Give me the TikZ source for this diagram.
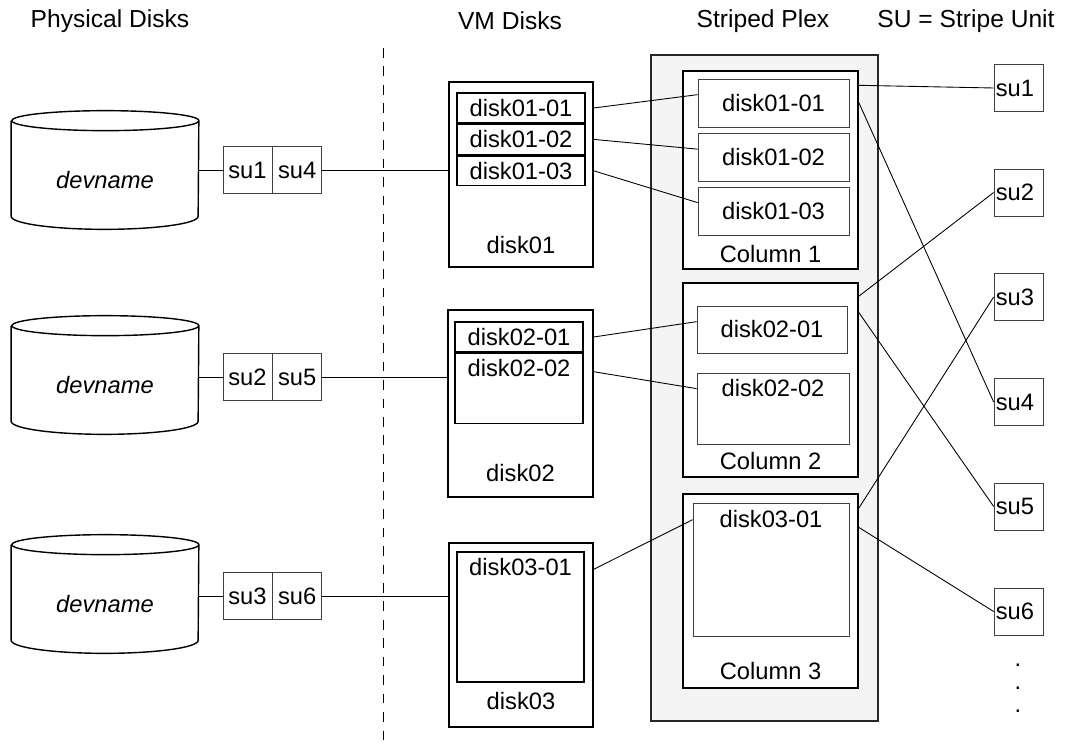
\documentclass[tikz,border=0pt]{standalone}
\usepackage{fontspec}
\setmainfont{Liberation Sans}
\usetikzlibrary{positioning,calc}
\definecolor{plexgray}{HTML}{F4F4F4}

\begin{document}
\begin{tikzpicture}[x=0.02cm,y=-0.02cm,every node/.style={font=\fontsize{13.5}{16}\selectfont}]
\tikzstyle{head} = [font=\fontsize{14}{16}\selectfont]
\tikzstyle{pdisk} = [rectangle, minimum width=3.74cm, minimum height=1.96cm, font=\fontsize{13.5}{16}\selectfont\itshape]
\tikzstyle{cell} = [rectangle, draw=black!75, inner sep=1pt, minimum width=0.98cm, minimum height=0.94cm]
\tikzstyle{vmdisk} = [rectangle, draw, line width=0.8pt, minimum width=2.88cm]
\tikzstyle{sub} = [rectangle, draw, line width=0.8pt, inner sep=0pt, minimum width=2.56cm, minimum height=0.6cm]
\tikzstyle{plexbox} = [rectangle, draw=black!85, fill=plexgray, line width=0.8pt, minimum width=4.54cm, minimum height=13.32cm]
\tikzstyle{column} = [rectangle, draw, fill=white, line width=0.8pt, minimum width=3.5cm]
\tikzstyle{psub} = [rectangle, draw=black!75, fill=white, inner sep=0pt, minimum width=3.02cm, minimum height=0.96cm]
\tikzstyle{unit} = [rectangle, draw=black!75, inner sep=1pt, minimum width=0.98cm, minimum height=0.94cm, text width=0.91cm, align=left]
\tikzstyle{link} = [line width=0.5pt]

\useasboundingbox (0,0) rectangle (1067,749);

% headings
\node (hpd) [head] at (110,21) {Physical Disks};
\node (hvm) [head] at (510,21) {VM Disks};
\node (hpl) [head] at (763,21) {Striped Plex};
\node (hsu) [head] at (966,21) {SU = Stripe Unit};

% divider
\coordinate (divtop) at (383,48);
\coordinate (divbot) at (383,749);
\draw [line width=0.5pt, dash pattern=on 5.5pt off 5pt] (divtop) -- (divbot);

% physical disks
\node (pd1) [pdisk] at (105,180) {devname};
\node (pd2) [pdisk] at (105,385) {devname};
\node (pd3) [pdisk] at (105,604) {devname};
\foreach \d in {pd1,pd2,pd3}
  \draw [line width=0.8pt] ([yshift=0.2cm]\d.north west) -- ([yshift=0.26cm]\d.south west)
    arc[start angle=180, end angle=360, x radius=1.87cm, y radius=0.26cm]
    -- ([yshift=0.2cm]\d.north east)
    arc[start angle=0, end angle=360, x radius=1.87cm, y radius=0.2cm];

\node (sa1) [cell] at (247.5,170) {su1};
\node (sb1) [cell, right=0pt of sa1] {su4};
\node (sa2) [cell] at (247.5,377) {su2};
\node (sb2) [cell, right=0pt of sa2] {su5};
\node (sa3) [cell] at (247.5,596) {su3};
\node (sb3) [cell, right=0pt of sa3] {su6};

% VM disks
\node (vm1) [vmdisk, minimum height=3.7cm, label={[anchor=south, inner sep=8pt]south:disk01}] at (521,174.5) {};
\node (v11) [sub] at (521,108) {disk01-01};
\node (v12) [sub, below=0pt of v11] {disk01-02};
\node (v13) [sub, below=0pt of v12] {disk01-03};

\node (vm2) [vmdisk, minimum width=2.9cm, minimum height=3.74cm, label={[anchor=south, inner sep=9pt]south:disk02}] at (520.5,403.5) {};
\node (v21) [sub] at (519,337) {disk02-01};
\node (v22) [sub, below=0pt of v21, minimum height=1.4cm, label={[anchor=north, inner sep=3.5pt]north:disk02-02}] {};

\node (vm3) [vmdisk, minimum height=3.68cm, label={[anchor=south, inner sep=10pt]south:disk03}] at (521,635) {};
\node (v31) [sub, minimum width=2.54cm, minimum height=2.6cm, label={[anchor=north, inner sep=4pt]north:disk03-01}] at (520.5,617) {};

% striped plex
\node (plex) [plexbox] at (764.5,388) {};
\node (col1) [column, minimum height=3.96cm, label={[anchor=south, inner sep=3.5pt]south:Column 1}] at (770.5,170) {};
\node (col2) [column, minimum height=3.88cm, label={[anchor=south, inner sep=4.5pt]south:Column 2}] at (770.5,380) {};
\node (col3) [column, minimum height=3.88cm, label={[anchor=south, inner sep=5pt]south:Column 3}] at (770.5,591) {};

\node (c1s1) [psub] at (773.5,103) {disk01-01};
\node (c1s2) [psub] at (773.5,157.5) {disk01-02};
\node (c1s3) [psub] at (773.5,211) {disk01-03};
\node (c2s1) [psub, minimum width=3.0cm, minimum height=0.94cm] at (772,329.5) {disk02-01};
\node (c2s2) [psub, minimum width=3.04cm, minimum height=1.42cm, label={[anchor=north, inner sep=3.5pt]north:disk02-02}] at (773,408.5) {};
\node (c3s1) [psub, minimum width=3.12cm, minimum height=2.66cm, label={[anchor=north, inner sep=4pt]north:disk03-01}] at (771,569.5) {};

% stripe units
\node (su1) [unit] at (1018.5,88) {su1};
\node (su2) [unit] at (1018.5,192.5) {su2};
\node (su3) [unit] at (1018.5,297) {su3};
\node (su4) [unit] at (1018.5,402) {su4};
\node (su5) [unit] at (1018.5,506.5) {su5};
\node (su6) [unit] at (1018.5,611.5) {su6};
\node (more) [align=center, font=\fontsize{13.5}{13}\selectfont] at (1018,688) {.\\.\\.};

% physical disk -> VM disk
\draw [link] (pd1.east |- sa1.west) -- (sa1.west);
\draw [link] (pd2.east |- sa2.west) -- (sa2.west);
\draw [link] (pd3.east |- sa3.west) -- (sa3.west);
\draw [link] (sb1.east) -- (sb1.east -| vm1.west);
\draw [link] (sb2.east) -- (sb2.east -| vm2.west);
\draw [link] (sb3.east) -- (sb3.east -| vm3.west);

% subdisks -> plex
\draw [link] (v11.east -| vm1.east) -- ($(c1s1.north west)+(0,16)$);
\draw [link] (v12.east -| vm1.east) -- ($(c1s2.north west)+(0,16)$);
\draw [link] (v13.east -| vm1.east) -- ($(c1s3.north west)+(0,16)$);
\draw [link] (v21.east -| vm2.east) -- ($(c2s1.north west)+(0,16)$);
\draw [link] ($(v22.north -| vm2.east)+(0,19)$) -- ($(c2s2.north west)+(0,16)$);
\draw [link] ($(v31.north -| vm3.east)+(0,18)$) -- ($(c3s1.north west)+(0,17)$);

% columns -> stripe units
\draw [link] ($(col1.north east)+(0,15)$) -- (su1.west);
\draw [link] ($(col1.north east)+(0,32)$) -- (su4.west);
\draw [link] ($(col2.north east)+(0,14)$) -- (su2.west);
\draw [link] ($(col2.north east)+(0,30)$) -- (su5.west);
\draw [link] ($(col3.north east)+(0,15)$) -- (su3.west);
\draw [link] ($(col3.north east)+(0,34)$) -- (su6.west);

\end{tikzpicture}
\end{document}
